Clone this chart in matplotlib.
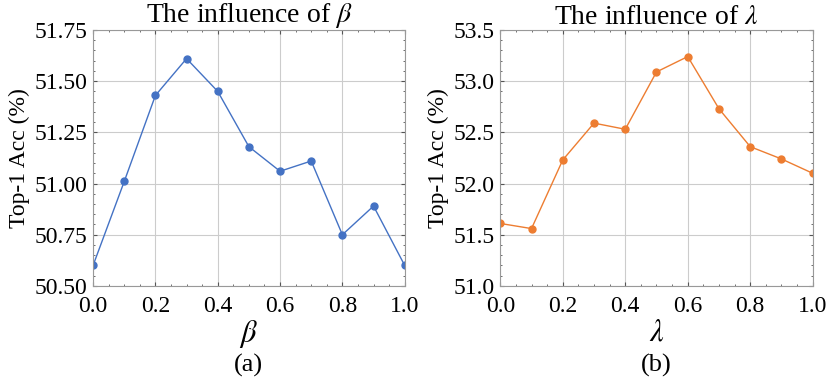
import numpy as np
import matplotlib
matplotlib.use("Agg")
import matplotlib.pyplot as plt
from matplotlib.ticker import MultipleLocator, AutoMinorLocator, FormatStrFormatter

plt.rcParams['font.family'] = ['Liberation Serif', 'DejaVu Serif']
plt.rcParams['mathtext.fontset'] = 'stix'

x_vals = [0.0, 0.1, 0.2, 0.3, 0.4, 0.5, 0.6, 0.7, 0.8, 0.9, 1.0]
beta_acc = [50.60, 51.01, 51.43, 51.61, 51.45, 51.18, 51.06, 51.11, 50.75, 50.89, 50.60]
lambda_acc = [51.61, 51.56, 52.23, 52.59, 52.53, 53.09, 53.24, 52.73, 52.36, 52.24, 52.10]

fig = plt.figure(figsize=(8.31, 3.89), dpi=100)
ax1 = fig.add_axes([0.112, 0.265, 0.375, 0.658])
ax2 = fig.add_axes([0.602, 0.265, 0.376, 0.658])

panels = [
    (ax1, beta_acc, "#4472C4", r"$\beta$", "(a)", (50.5, 51.75), 0.25, "%.2f"),
    (ax2, lambda_acc, "#ED7D31", r"$\lambda$", "(b)", (51.0, 53.5), 0.5, "%.1f"),
]

for ax, acc, color, sym, tag, ylim, ystep, fmt in panels:
    ax.plot(x_vals, acc, color=color, marker="o", markersize=5, linewidth=1)
    ax.set_xlim(0, 1)
    ax.set_ylim(*ylim)
    ax.xaxis.set_major_locator(MultipleLocator(0.2))
    ax.yaxis.set_major_locator(MultipleLocator(ystep))
    ax.xaxis.set_minor_locator(AutoMinorLocator(4))
    ax.yaxis.set_minor_locator(AutoMinorLocator(5))
    ax.yaxis.set_major_formatter(FormatStrFormatter(fmt))
    ax.grid(True, color="#cccccc", linewidth=0.8)
    ax.set_axisbelow(True)
    ax.tick_params(which="both", direction="in", top=True, right=True,
                   labelsize=17, colors="#555555", labelcolor="black")
    ax.tick_params(which="major", length=3)
    ax.tick_params(which="minor", length=1.5)
    ax.tick_params(axis="x", pad=7)
    ax.tick_params(axis="y", pad=4)
    for sp in ax.spines.values():
        sp.set_color("#999999")
    ax.set_title("The influence of " + sym, fontsize=20, pad=2)
    ax.set_ylabel("Top-1 Acc (%)", fontsize=17, labelpad=3)
    ax.set_xlabel(sym, fontsize=22, labelpad=1)
    ax.text(0.5, -0.31, tag, transform=ax.transAxes, ha="center", va="center", fontsize=19)

fig.savefig("out.png", dpi=100)
